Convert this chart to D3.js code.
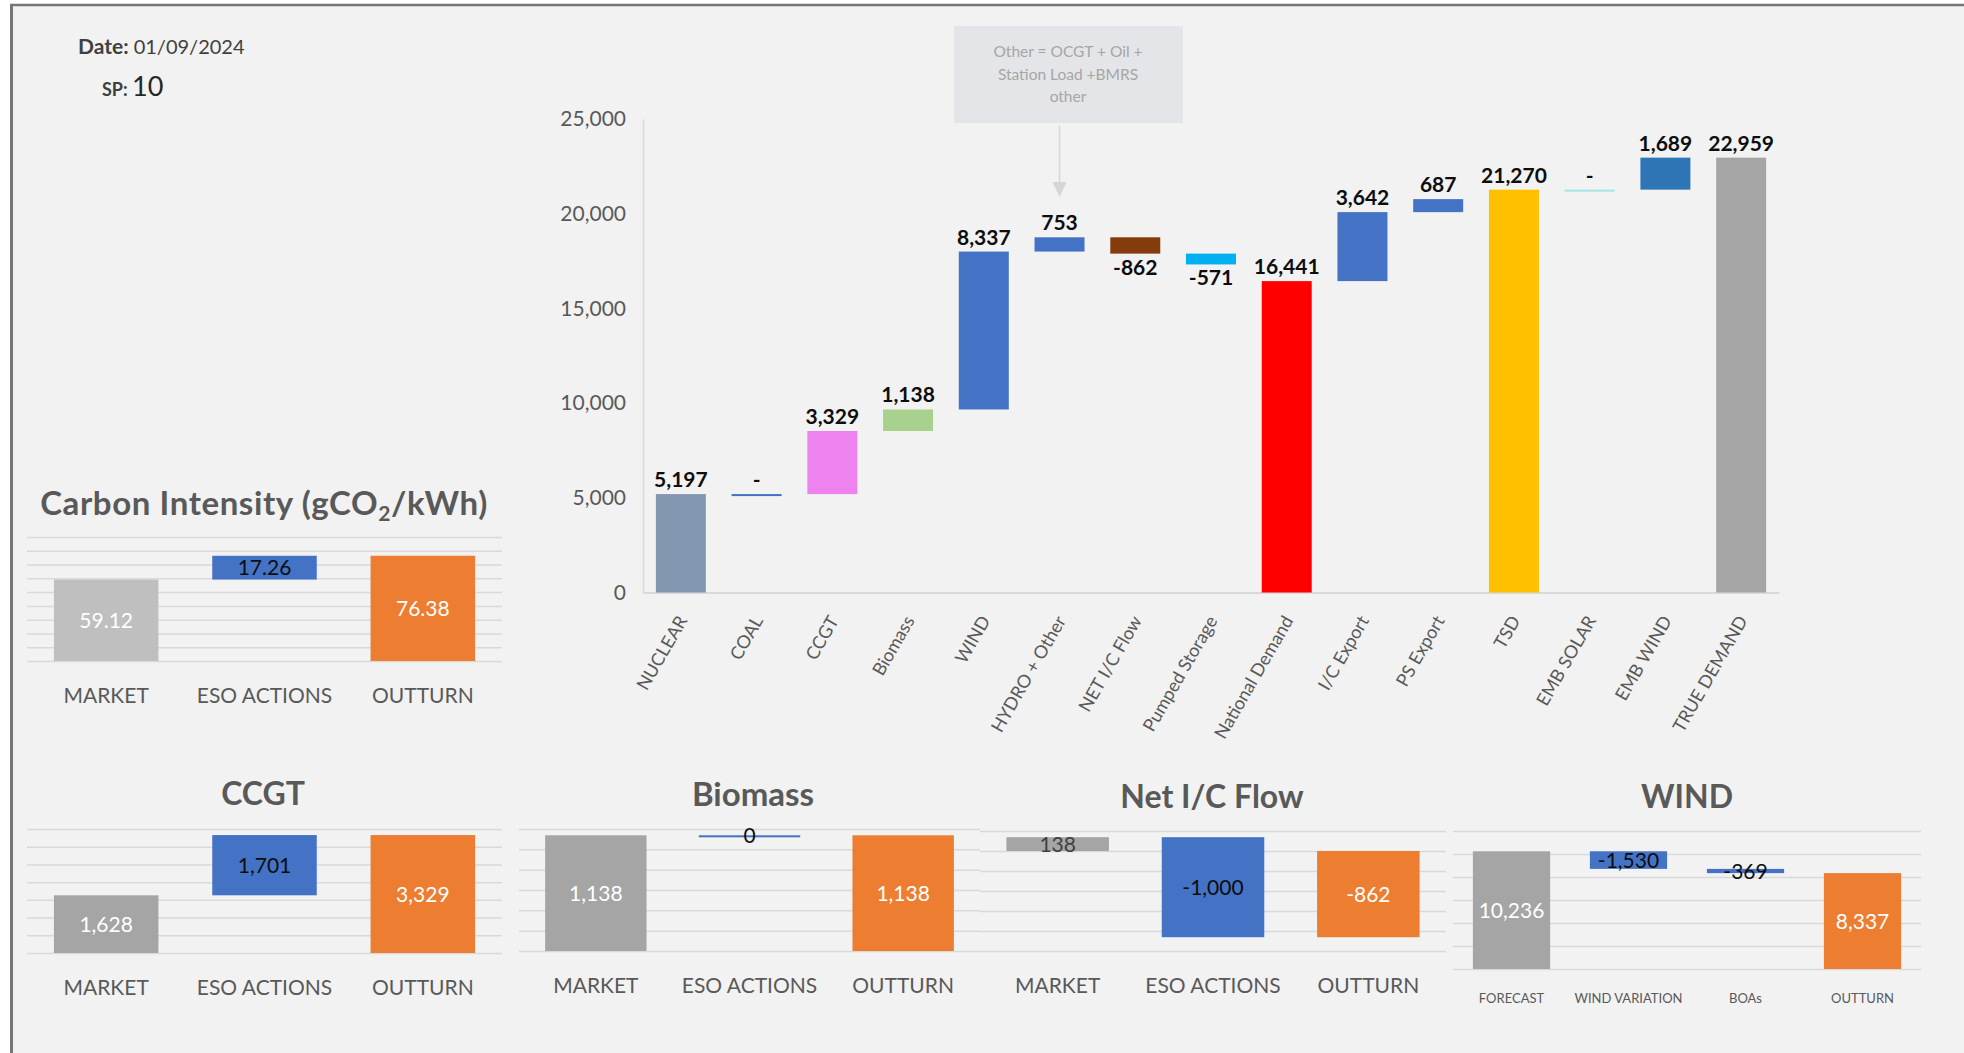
<!DOCTYPE html>
<html>
<head>
<meta charset="utf-8">
<script src="https://cdn.jsdelivr.net/npm/d3@7"></script>
<style>
  html, body { margin: 0; padding: 0; background: #fff; }
  svg { display: block; font-family: Lato, "Open Sans", sans-serif; }
</style>
</head>
<body>
<svg id="chart" width="1964" height="1053"></svg>
<script>
// ---- data ----
const reportDate = "01/09/2024";
const settlementPeriod = "10";

const wfCategories = ["NUCLEAR", "COAL", "CCGT", "Biomass", "WIND", "HYDRO + Other", "NET I/C Flow",
  "Pumped Storage", "National Demand", "I/C Export", "PS Export", "TSD", "EMB SOLAR", "EMB WIND", "TRUE DEMAND"];
const wfValues = [5197, 0, 3329, 1138, 8337, 753, -862, -571, 16441, 3642, 687, 21270, 0, 1689, 22959];
// bars that start from zero instead of floating
const wfTotals = ["NUCLEAR", "National Demand", "TSD", "TRUE DEMAND"];
const wfTicks = [0, 5000, 10000, 15000, 20000, 25000];
const noteLines = ["Other = OCGT + Oil +", "Station  Load +BMRS", "other"];

const smallCategories = ["MARKET", "ESO ACTIONS", "OUTTURN"];
const carbonValues = [59.12, 17.26, 76.38];
const carbonTicks = [0, 10, 20, 30, 40, 50, 60, 70, 80, 90];
const ccgtValues = [1628, 1701, 3329];
const ccgtTicks = [0, 500, 1000, 1500, 2000, 2500, 3000, 3500];
const biomassValues = [1138, 0, 1138];
const biomassTicks = [0, 200, 400, 600, 800, 1000, 1200];
const icValues = [138, -1000, -862];
const icTicks = [-1000, -800, -600, -400, -200, 0, 200];
const windCategories = ["FORECAST", "WIND VARIATION", "BOAs", "OUTTURN"];
const windValues = [10236, -1530, -369, 8337];
const windTicks = [0, 2000, 4000, 6000, 8000, 10000, 12000];

// ---- styles ----
const wfColors = ["#8497b0", "#4472c4", "#ee82ee", "#a9d18e", "#4472c4", "#4472c4", "#843c0c",
  "#00b0f0", "#ff0000", "#4472c4", "#4472c4", "#ffc000", "#a3e4e4", "#2e75b6", "#a5a5a5"];
const GREY_TXT = "#595959";
const GRID = "#d9d9d9";

// Excel style numbers: plain hyphen for negatives
const locale = d3.formatLocale({ decimal: ".", thousands: ",", grouping: [3], currency: ["", ""], minus: "-" });
const fmtInt = locale.format(",");
const fmt2 = locale.format(".2f");

const svg = d3.select("#chart");

// page frame
svg.append("rect").attr("x", 12).attr("y", 6).attr("width", 1964).attr("height", 1060).attr("fill", "#f2f2f2");
svg.append("line").attr("x1", 10).attr("x2", 1964).attr("y1", 5).attr("y2", 5)
  .attr("stroke", "#767676").attr("stroke-width", 2.5);
svg.append("line").attr("x1", 11.5).attr("x2", 11.5).attr("y1", 4).attr("y2", 1053)
  .attr("stroke", "#767676").attr("stroke-width", 3);

// date / SP
const hdr = svg.append("g").attr("fill", "#404040");
hdr.append("text").attr("x", 78).attr("y", 54).attr("font-size", 21)
  .call(t => {
    t.append("tspan").attr("font-weight", "bold").text("Date: ");
    t.append("tspan").attr("font-size", 20).text(reportDate);
  });
hdr.append("text").attr("x", 102).attr("y", 96)
  .call(t => {
    t.append("tspan").attr("font-weight", "bold").attr("font-size", 18).text("SP: ");
    t.append("tspan").attr("font-size", 27).attr("fill", "#262626").text(settlementPeriod);
  });

// ---- main waterfall ----
function waterfall() {
  const x = d3.scaleBand().domain(wfCategories).range([643, 1779]).paddingInner(0.34).paddingOuter(0.17);
  const y = d3.scaleLinear().domain([0, 25000]).range([592.5, 119]);

  let run = 0;
  const bars = wfCategories.map((c, i) => {
    const v = wfValues[i];
    let y0, y1;
    if (wfTotals.includes(c)) { y0 = 0; y1 = v; }
    else { y0 = run; y1 = run + v; }
    run = y1;
    return { c, v, y0, y1, color: wfColors[i] };
  });

  const g = svg.append("g");

  const yAxis = g.append("g").attr("transform", "translate(643,0)")
    .call(d3.axisLeft(y).tickValues(wfTicks).tickFormat(fmtInt).tickSize(0).tickSizeOuter(0).tickPadding(17));
  yAxis.select(".domain").attr("stroke", GRID).attr("stroke-width", 1.5);
  yAxis.selectAll("text").attr("fill", GREY_TXT).attr("font-size", 21).attr("font-family", "Lato, sans-serif");

  const xAxis = g.append("g").attr("transform", "translate(0,592.5)")
    .call(d3.axisBottom(x).tickSize(0).tickSizeOuter(0));
  xAxis.select(".domain").attr("stroke", GRID).attr("stroke-width", 2);
  xAxis.selectAll("text")
    .attr("fill", GREY_TXT).attr("font-size", 18).attr("font-family", "Lato, sans-serif")
    .attr("text-anchor", "end").attr("x", 0).attr("y", 0).attr("dy", 0)
    .attr("transform", "translate(7,28) rotate(-60)");

  g.selectAll("rect.wf").data(bars).join("rect").attr("class", "wf")
    .attr("x", d => x(d.c))
    .attr("width", x.bandwidth())
    .attr("y", d => Math.min(y(d.y0), y(d.y1)))
    .attr("height", d => Math.max(2, Math.abs(y(d.y0) - y(d.y1))))
    .attr("fill", d => d.color);

  g.selectAll("text.wfl").data(bars).join("text").attr("class", "wfl")
    .attr("x", d => x(d.c) + x.bandwidth() / 2)
    .attr("y", d => d.v < 0 ? y(d.y1) + 21 : y(Math.max(d.y0, d.y1)) - 7)
    .attr("text-anchor", "middle")
    .attr("font-size", 21).attr("font-weight", "bold").attr("fill", "#0d0d0d")
    .text(d => d.v === 0 ? "-" : fmtInt(d.v));

  // note box with arrow pointing at HYDRO + Other
  const note = svg.append("g");
  note.append("rect").attr("x", 954).attr("y", 26).attr("width", 229).attr("height", 97).attr("fill", "#e4e5e8");
  note.selectAll("text").data(noteLines).join("text")
    .attr("x", 1068).attr("y", (d, i) => 57 + i * 22.5)
    .attr("text-anchor", "middle").attr("font-size", 15.5).attr("fill", "#a6a6a6")
    .text(d => d);
  const ax = x("HYDRO + Other") + x.bandwidth() / 2;
  note.append("line").attr("x1", ax).attr("x2", ax).attr("y1", 126).attr("y2", 184)
    .attr("stroke", "#d6d6d6").attr("stroke-width", 1.5);
  note.append("path").attr("d", `M${ax - 7},182 L${ax + 7},182 L${ax},197 Z`).attr("fill", "#d6d6d6");
}
waterfall();

// ---- small ESO-action waterfalls ----
function smallChart(o) {
  const x = d3.scaleBand().domain(o.cats).range([o.x0, o.x1]).paddingInner(0.34).paddingOuter(0.17);
  const y = d3.scaleLinear().domain(d3.extent(o.ticks)).range([o.yb, o.yt]);
  const fmt = o.fmt || fmtInt;
  const n = o.values.length;

  let run = 0;
  const bars = o.values.map((v, i) => {
    let y0, y1, kind;
    if (i === 0) { y0 = 0; y1 = v; kind = "start"; }
    else if (i === n - 1) { y0 = 0; y1 = v; kind = "end"; }
    else { y0 = run; y1 = run + v; kind = "delta"; }
    run = y1;
    return { c: o.cats[i], v, y0, y1, kind };
  });

  const g = svg.append("g");

  g.append("text").attr("x", o.tx).attr("y", o.ty).attr("text-anchor", "middle")
    .attr("font-size", o.titleSize || 32).attr("font-weight", "bold").attr("fill", GREY_TXT)
    .attr("letter-spacing", o.titleSpacing || 0)
    .call(o.titleFn || (t => t.text(o.title)));

  const grid = g.append("g").attr("transform", `translate(${o.x0},0)`)
    .call(d3.axisLeft(y).tickValues(o.ticks).tickSize(-(o.x1 - o.x0)).tickFormat(""));
  grid.select(".domain").remove();
  grid.selectAll("line").attr("stroke", GRID).attr("stroke-width", 1.5);

  const colors = { start: o.startColor || "#a5a5a5", delta: "#4472c4", end: "#ed7d31" };
  g.selectAll("rect").data(bars).join("rect")
    .attr("x", d => x(d.c))
    .attr("width", x.bandwidth())
    .attr("y", d => Math.min(y(d.y0), y(d.y1)))
    .attr("height", d => Math.max(2, Math.abs(y(d.y0) - y(d.y1))))
    .attr("fill", d => colors[d.kind]);

  g.selectAll("text.vl").data(bars).join("text").attr("class", "vl")
    .attr("x", d => x(d.c) + x.bandwidth() / 2)
    .attr("y", d => (y(d.y0) + y(d.y1)) / 2)
    .attr("dy", "0.36em").attr("text-anchor", "middle").attr("font-size", 21)
    .attr("fill", d => {
      if (d.kind === "delta") return "#0d0d0d";
      if (Math.abs(y(d.y0) - y(d.y1)) < 25) return "#404040";
      return "#ffffff";
    })
    .text(d => fmt(d.v));

  g.selectAll("text.cl").data(o.cats).join("text").attr("class", "cl")
    .attr("x", d => x(d) + x.bandwidth() / 2)
    .attr("y", o.cy).attr("text-anchor", "middle")
    .attr("font-size", o.catSize || 21).attr("fill", GREY_TXT)
    .text(d => d);
}

smallChart({
  cats: smallCategories, values: carbonValues, ticks: carbonTicks, fmt: fmt2,
  x0: 27, x1: 502, yb: 661, yt: 537, tx: 264, ty: 515, cy: 703, startColor: "#bfbfbf",
  titleSize: 33, titleSpacing: 0.6,
  titleFn: t => {
    t.append("tspan").text("Carbon Intensity (gCO");
    t.append("tspan").attr("font-size", 21).attr("dy", 6).text("2");
    t.append("tspan").attr("dy", -6).text("/kWh)");
  }
});
smallChart({
  cats: smallCategories, values: ccgtValues, ticks: ccgtTicks, title: "CCGT",
  x0: 27, x1: 502, yb: 953, yt: 829, tx: 263, ty: 805, cy: 995
});
smallChart({
  cats: smallCategories, values: biomassValues, ticks: biomassTicks, title: "Biomass", titleSize: 33,
  x0: 519, x1: 980, yb: 951, yt: 829, tx: 753, ty: 806, cy: 993
});
smallChart({
  cats: smallCategories, values: icValues, ticks: icTicks, title: "Net I/C Flow",
  x0: 980, x1: 1446, yb: 951, yt: 831, tx: 1212, ty: 808, cy: 993
});
smallChart({
  cats: windCategories, values: windValues, ticks: windTicks, title: "WIND",
  x0: 1453, x1: 1921, yb: 969, yt: 831, tx: 1687, ty: 808, cy: 1003, catSize: 13
});
</script>
</body>
</html>
